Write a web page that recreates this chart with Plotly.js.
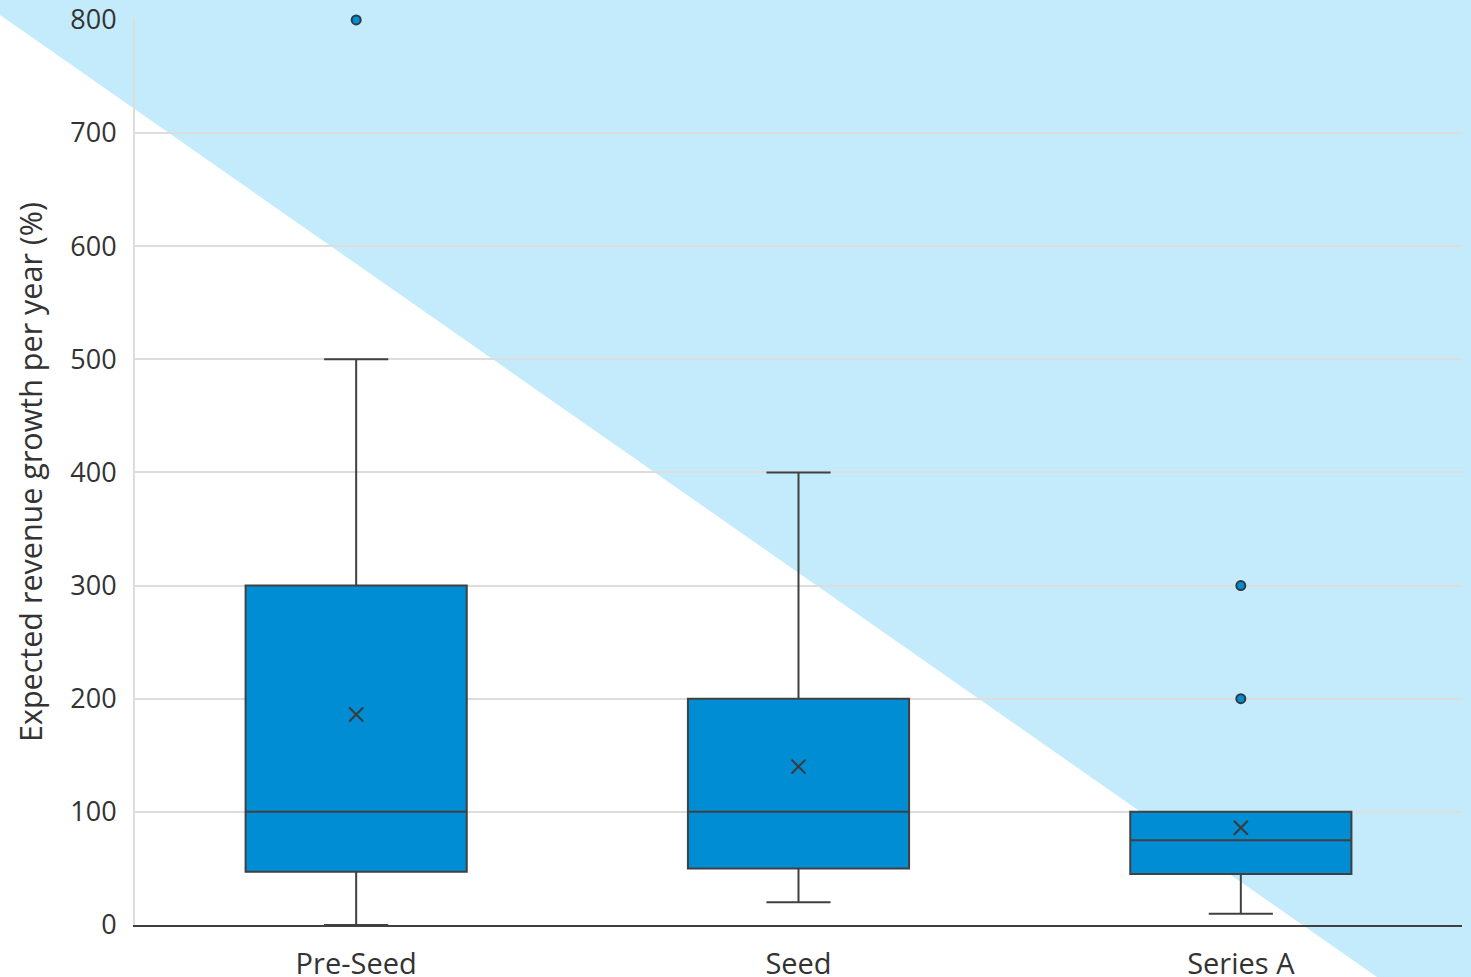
<!DOCTYPE html>
<html>
<head>
<meta charset="utf-8">
<script src="https://cdn.plot.ly/plotly-3.0.1.min.js"></script>
<style>
html,body{margin:0;padding:0;width:1471px;height:977px;overflow:hidden;background:#fff;}
#bg{position:absolute;left:0;top:0;width:1471px;height:977px;background:#C3EBFC;
clip-path:polygon(0px 0px,1471px 0px,1471px 977px,1377px 977px,0px 15px);}
#chart{position:absolute;left:0;top:0;width:1471px;height:977px;}
</style>
</head>
<body>
<div id="bg"></div>
<div id="chart"></div>
<script>
const categories = ["Pre-Seed", "Seed", "Series A"];
const lowerFence = [0, 20, 10];
const q1 = [47, 50, 45];
const median = [100, 100, 75];
const q3 = [300, 200, 100];
const upperFence = [500, 400, 100];
const means = [186, 140, 86];
const outlierX = ["Pre-Seed", "Series A", "Series A"];
const outlierY = [800, 200, 300];
const yTicks = [0, 100, 200, 300, 400, 500, 600, 700, 800];

const font = "Open Sans, Noto Sans, sans-serif";
const traces = [
  {
    type: "box",
    x: categories,
    q1: q1, median: median, q3: q3,
    lowerfence: lowerFence, upperfence: upperFence,
    boxpoints: false,
    width: 0.5,
    whiskerwidth: 0.29,
    fillcolor: "#008DD4",
    line: {color: "#404040", width: 2},
    hoverinfo: "skip",
    showlegend: false
  },
  {
    type: "scatter", mode: "markers",
    x: categories, y: means,
    marker: {symbol: "x-thin-open", size: 14, line: {color: "#3a3a3a", width: 2}, color: "#3a3a3a"},
    cliponaxis: false, showlegend: false
  },
  {
    type: "scatter", mode: "markers",
    x: outlierX, y: outlierY,
    marker: {symbol: "circle", size: 9, color: "#008DD4", line: {color: "#2f3a44", width: 2}},
    cliponaxis: false, showlegend: false
  }
];

const layout = {
  width: 1471, height: 977,
  margin: {l: 135, r: 9, t: 19, b: 52},
  paper_bgcolor: "rgba(0,0,0,0)",
  plot_bgcolor: "rgba(0,0,0,0)",
  font: {family: font, color: "#333333", size: 26},
  xaxis: {
    type: "category",
    range: [-0.5, 2.5],
    showgrid: false,
    showline: true, linecolor: "#404040", linewidth: 2,
    ticks: "", ticklabelstandoff: 12,
    tickfont: {size: 29, color: "#333333"},
    zeroline: false
  },
  yaxis: {
    range: [0, 800.8],
    tickvals: yTicks,
    ticktext: yTicks.map(String),
    showgrid: true, gridcolor: "#dddddd", gridwidth: 2,
    showline: true, linecolor: "#dddddd", linewidth: 2,
    zeroline: false,
    ticks: "", ticklabelstandoff: 11,
    tickfont: {size: 27, color: "#333333"},
    title: {text: "Expected revenue growth per year (%)", font: {size: 30.5, color: "#333333"}, standoff: 19}
  }
};

Plotly.newPlot("chart", traces, layout, {displayModeBar: false, staticPlot: true});
</script>
</body>
</html>
